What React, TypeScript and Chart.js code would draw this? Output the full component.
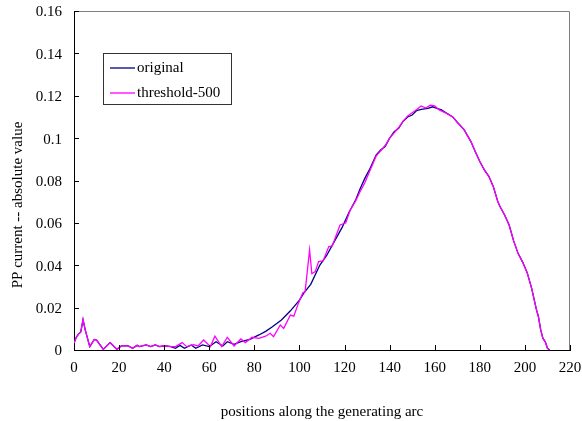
import { useEffect, useRef } from "react";
import { Chart, registerables } from "chart.js";
Chart.register(...registerables);

const xTickValues = [0, 20, 40, 60, 80, 100, 120, 140, 160, 180, 200, 220];
const yTickValues = [0, 0.02, 0.04, 0.06, 0.08, 0.1, 0.12, 0.14, 0.16];
const xAxisTitle = "positions along the generating arc";
const yAxisTitle = "PP current -- absolute value";

const originalLabel = "original";
const originalX = [0,1,2,3,4,5,7,9,10,13,16,17,19,21,24,26,28,29,32,34,36,38,40,43,45,47,49,52,54,57,60,63,66,68,71,74,78,82,85,88,92,96,100,102,105,109,112,115,119,122,125,127,129,131,134,136,138,140,142,144,146,148,150,152,154,157,159,161,163,165,168,170,173,176,178,180,182,184,186,188,189,191,193,195,197,199,201,203,205,206,207,208,209,210,211];
const originalY = [0.0032,0.006,0.0075,0.0085,0.0142,0.0094,0.0016,0.005,0.0047,0.0003,0.0035,0.0025,0.0003,0.0019,0.0019,0.0008,0.0022,0.0016,0.0024,0.0016,0.0024,0.0016,0.002,0.0016,0.0008,0.0022,0.0008,0.0024,0.0008,0.0024,0.0016,0.0039,0.0019,0.0039,0.0027,0.004,0.005,0.0071,0.0088,0.011,0.0142,0.0185,0.0235,0.027,0.031,0.04,0.0445,0.0503,0.058,0.065,0.071,0.0763,0.081,0.085,0.092,0.0944,0.096,0.1,0.103,0.1046,0.108,0.11,0.1109,0.113,0.1136,0.114,0.1148,0.114,0.1133,0.112,0.11,0.1075,0.104,0.0985,0.0936,0.089,0.085,0.082,0.0771,0.07,0.0676,0.0637,0.059,0.0515,0.0455,0.0415,0.0365,0.0291,0.0195,0.0157,0.0095,0.0055,0.004,0.0008,0];

const thresholdLabel = "threshold-500";
const thresholdX = [0,1,2,3,4,5,7,9,10,13,16,17,19,21,24,26,28,29,32,34,36,38,40,43,45,48,50,53,55,57.5,60.5,62.5,65.5,68,71,74,76,79,82,85,87,88.5,91.5,93,96,97.5,99.5,101.5,102.5,104.5,105.5,107,108.5,110.5,113,114.5,118,120.5,122.5,125,127,129,131,134,136,138,140,142,144,146,148,150,152,154,156,158,160,162,165,168,170,173,176,178,180,182,184,186,188,189,191,193,195,197,199,201,203,205,206,207,208,209,210,211];
const thresholdY = [0.0032,0.006,0.0075,0.0085,0.0145,0.0094,0.0016,0.005,0.0047,0.0003,0.0035,0.0025,0.0003,0.0019,0.0019,0.0008,0.0022,0.0016,0.0024,0.0016,0.0024,0.0016,0.002,0.0016,0.0016,0.0035,0.0016,0.0025,0.0019,0.0047,0.0016,0.0065,0.0016,0.006,0.0019,0.0052,0.0035,0.006,0.0055,0.0065,0.0079,0.0063,0.0118,0.0102,0.0165,0.016,0.022,0.027,0.0275,0.0472,0.036,0.037,0.0417,0.042,0.0488,0.049,0.059,0.06,0.066,0.0705,0.075,0.079,0.084,0.0915,0.094,0.0965,0.1,0.1025,0.105,0.108,0.1105,0.112,0.1135,0.1152,0.1142,0.1155,0.1152,0.1133,0.1118,0.11,0.1075,0.104,0.0985,0.0936,0.089,0.085,0.082,0.0771,0.07,0.0676,0.0637,0.059,0.0515,0.0455,0.0415,0.0365,0.0291,0.0195,0.0157,0.0095,0.0055,0.004,0.0008,0];

const FONT = '"Liberation Serif", "Times New Roman", serif';
const NAVY = "#000080";
const MAGENTA = "#FF00FF";

const decorPlugin = {
  id: "decor",
  beforeDatasetsDraw(chart: any) {
    const { ctx, chartArea } = chart;
    const { left, right, top, bottom } = chartArea;
    ctx.save();
    ctx.strokeStyle = "#808080";
    ctx.lineWidth = 1;
    ctx.beginPath();
    ctx.moveTo(left, top + 0.5);
    ctx.lineTo(right - 0.5, top + 0.5);
    ctx.lineTo(right - 0.5, bottom);
    ctx.stroke();
    ctx.restore();
  },
  afterDraw(chart: any) {
    const { ctx, chartArea, scales } = chart;
    const { left, bottom } = chartArea;
    ctx.save();
    ctx.strokeStyle = "#000";
    ctx.lineWidth = 1;
    ctx.beginPath();
    yTickValues.forEach((v) => {
      const py = Math.round(scales.y.getPixelForValue(v)) + 0.5;
      ctx.moveTo(left, py);
      ctx.lineTo(left + 5, py);
    });
    xTickValues.forEach((v) => {
      const px = Math.round(scales.x.getPixelForValue(v)) + 0.5;
      ctx.moveTo(px, bottom);
      ctx.lineTo(px, bottom - 5);
    });
    ctx.stroke();

    ctx.fillStyle = "#000";
    ctx.font = `15px ${FONT}`;
    ctx.textAlign = "center";
    ctx.textBaseline = "middle";
    ctx.translate(18, 205);
    ctx.rotate(-Math.PI / 2);
    ctx.fillText(yAxisTitle, 0, 0);
    ctx.setTransform(1, 0, 0, 1, 0, 0);

    const bx = 103.5, by = 53.5, bw = 128, bh = 51;
    ctx.fillStyle = "#fff";
    ctx.fillRect(bx, by, bw, bh);
    ctx.strokeStyle = "#333";
    ctx.strokeRect(bx, by, bw, bh);
    const rows = [
      { label: chart.data.datasets[1].label, color: NAVY, y: 68 },
      { label: chart.data.datasets[0].label, color: MAGENTA, y: 93 },
    ];
    rows.forEach((r) => {
      ctx.strokeStyle = r.color;
      ctx.lineWidth = 1.3;
      ctx.beginPath();
      ctx.moveTo(110, r.y);
      ctx.lineTo(135, r.y);
      ctx.stroke();
      ctx.fillStyle = "#000";
      ctx.textAlign = "left";
      ctx.textBaseline = "middle";
      ctx.font = `15px ${FONT}`;
      ctx.fillText(r.label, 137, r.y);
    });
    ctx.restore();
  },
};

export default function App() {
  const canvasRef = useRef<HTMLCanvasElement | null>(null);

  useEffect(() => {
    document.body.style.margin = "0";
    const canvas = canvasRef.current;
    if (!canvas) return;
    const chart = new Chart(canvas, {
      type: "line",
      data: {
        datasets: [
          {
            label: thresholdLabel,
            data: thresholdX.map((x, i) => ({ x, y: thresholdY[i] })),
            borderColor: MAGENTA,
            backgroundColor: MAGENTA,
            borderWidth: 1.3,
            pointRadius: 0,
            tension: 0,
            order: 0,
          },
          {
            label: originalLabel,
            data: originalX.map((x, i) => ({ x, y: originalY[i] })),
            borderColor: NAVY,
            backgroundColor: NAVY,
            borderWidth: 1.3,
            pointRadius: 0,
            tension: 0,
            order: 1,
          },
        ],
      },
      options: {
        responsive: false,
        animation: false,
        devicePixelRatio: 1,
        layout: { padding: { top: 11, right: 12, left: 0, bottom: 0 } },
        plugins: { legend: { display: false }, tooltip: { enabled: false } },
        scales: {
          x: {
            type: "linear",
            min: 0,
            max: 220,
            afterBuildTicks: (s: any) => {
              s.ticks = xTickValues.map((v) => ({ value: v }));
            },
            afterFit: (s: any) => {
              s.height = 71;
              s.paddingLeft = 0;
              s.paddingRight = 0;
            },
            grid: { display: false, drawTicks: false },
            border: { display: true, color: "#000", width: 1 },
            ticks: {
              color: "#000",
              font: { family: FONT, size: 15 },
              padding: 9,
              maxRotation: 0,
              autoSkip: false,
            },
            title: {
              display: true,
              text: xAxisTitle,
              color: "#000",
              font: { family: FONT, size: 15 },
              padding: { top: 0, bottom: 0 },
            },
          },
          y: {
            type: "linear",
            min: 0,
            max: 0.16,
            afterBuildTicks: (s: any) => {
              s.ticks = yTickValues.map((v) => ({ value: v }));
            },
            afterFit: (s: any) => {
              s.width = 74;
              s.paddingTop = 0;
              s.paddingBottom = 0;
            },
            grid: { display: false, drawTicks: false },
            border: { display: true, color: "#000", width: 1 },
            ticks: {
              color: "#000",
              font: { family: FONT, size: 15 },
              padding: 12,
              labelOffset: 1.5,
              autoSkip: false,
              callback: (v: any) => String(Number(Number(v).toFixed(2))),
            },
          },
        },
      },
      plugins: [decorPlugin],
    });
    return () => chart.destroy();
  }, []);

  return (
    <div style={{ width: 582, height: 421, background: "#fff" }}>
      <canvas ref={canvasRef} width={582} height={421} style={{ display: "block" }} />
    </div>
  );
}
